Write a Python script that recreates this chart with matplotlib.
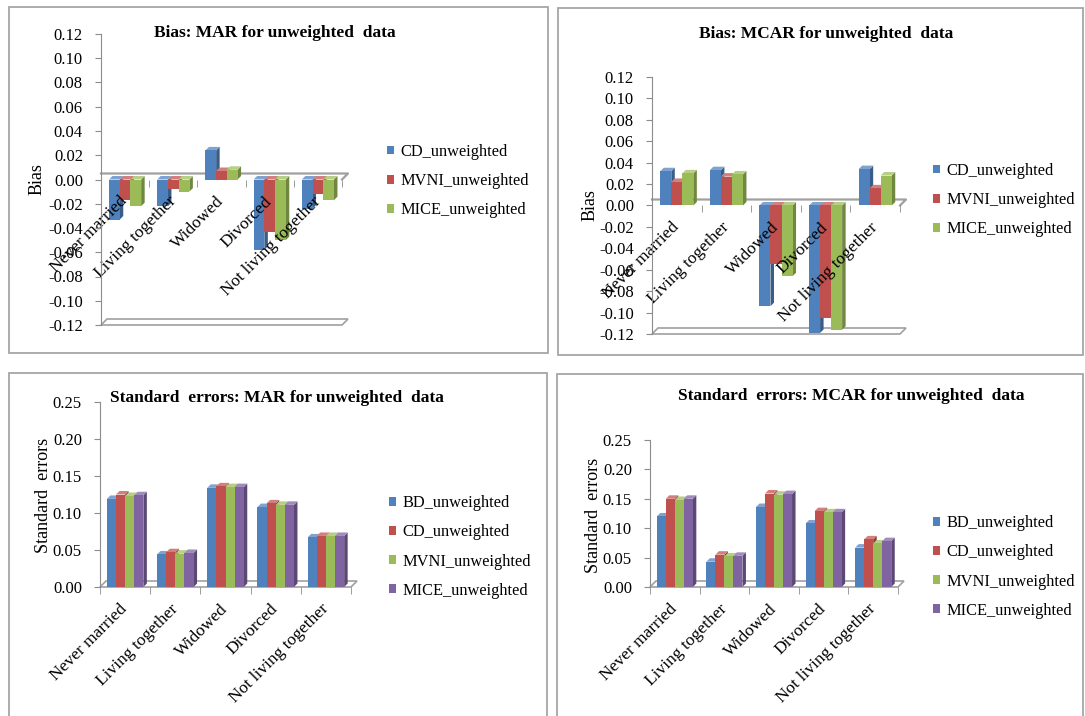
import numpy as np
import matplotlib.pyplot as plt
from matplotlib.patches import Polygon, Rectangle

plt.rcParams['font.family'] = ['Liberation Serif', 'DejaVu Serif']

# Data
categories = ["Never married", "Living together", "Widowed", "Divorced", "Not living together"]

bias_mar_cd = [-0.033, -0.022, 0.024, -0.058, -0.024]
bias_mar_mvni = [-0.017, -0.008, 0.007, -0.043, -0.012]
bias_mar_mice = [-0.022, -0.010, 0.008, -0.050, -0.017]

bias_mcar_cd = [0.032, 0.033, -0.094, -0.119, 0.034]
bias_mcar_mvni = [0.022, 0.027, -0.055, -0.105, 0.016]
bias_mcar_mice = [0.030, 0.029, -0.066, -0.116, 0.028]

se_mar_bd = [0.119, 0.044, 0.134, 0.108, 0.067]
se_mar_cd = [0.125, 0.047, 0.136, 0.113, 0.069]
se_mar_mvni = [0.123, 0.045, 0.135, 0.111, 0.069]
se_mar_mice = [0.124, 0.046, 0.135, 0.111, 0.069]

se_mcar_bd = [0.120, 0.043, 0.136, 0.108, 0.067]
se_mcar_cd = [0.150, 0.055, 0.159, 0.129, 0.081]
se_mcar_mvni = [0.148, 0.052, 0.157, 0.127, 0.074]
se_mcar_mice = [0.150, 0.053, 0.158, 0.127, 0.078]

names3 = ["CD_unweighted", "MVNI_unweighted", "MICE_unweighted"]
names4 = ["BD_unweighted", "CD_unweighted", "MVNI_unweighted", "MICE_unweighted"]

front = {"blue": "#4F81BD", "red": "#C0504D", "green": "#9BBB59", "purple": "#8064A2"}
side = {"blue": "#395D88", "red": "#8A3A37", "green": "#708740", "purple": "#5C4875"}
topc = {"blue": "#7FA3D0", "red": "#D2807D", "green": "#B6CE85", "purple": "#A08CBC"}

W, H = 1085, 716
GRAY = "#8C8C8C"

fig = plt.figure(figsize=(W / 100, H / 100), dpi=100)

# panel frames
for l, t, r, b in [(9, 7, 548, 353), (558, 8, 1083, 355), (9, 373, 547, 722), (557, 374, 1083, 722)]:
    fig.add_artist(Rectangle((l / W, 1 - b / H), (r - l) / W, (b - t) / H, transform=fig.transFigure,
                             fill=False, ec="#A6A6A6", lw=1.3))


def panel(box, ylim, step, series, names, colors, title, title_xy, ylabel, ylabel_xy, leg_xy):
    l, t, r, b = box
    ax = fig.add_axes([l / W, 1 - b / H, (r - l) / W, (b - t) / H])
    n_cat = len(categories)
    ax.set_xlim(-0.5, n_cat - 0.5)
    ax.set_ylim(*ylim)
    ux = n_cat / (r - l)
    uy = (ylim[1] - ylim[0]) / (b - t)
    ddx, ddy = 3.5 * ux, 3.5 * uy
    fdx, fdy = 6 * ux, 6 * uy
    base = max(ylim[0], 0)

    # floor of the 3D box
    x0, x1 = -0.5, n_cat - 0.5
    ax.add_patch(Polygon([(x0, ylim[0]), (x1, ylim[0]), (x1 + fdx, ylim[0] + fdy), (x0 + fdx, ylim[0] + fdy)],
                         closed=True, fill=False, ec="#A0A0A0", lw=1.2, clip_on=False, zorder=0.8))
    if ylim[0] < 0:
        ax.plot([x0, x1 + fdx, x1], [fdy, fdy, 0], color="#A0A0A0", lw=1.6, clip_on=False, zorder=0.9)

    n = len(series)
    w = 1 / (n + 1.5)
    x = np.arange(n_cat)
    handles = []
    for k, (vals, col) in enumerate(zip(series, colors)):
        off = -n * w / 2 + k * w
        z = 1 + k * 0.2
        for xi, v in zip(x + off, vals):
            top = max(v, base)
            bot = min(v, base)
            xa, xb = xi, xi + w
            ax.add_patch(Polygon([(xb, bot), (xb + ddx, bot + ddy), (xb + ddx, top + ddy), (xb, top)],
                                 closed=True, fc=side[col], ec="none", zorder=z))
            ax.add_patch(Polygon([(xa, top), (xa + ddx, top + ddy), (xb + ddx, top + ddy), (xb, top)],
                                 closed=True, fc=topc[col], ec="none", zorder=z))
        h = ax.bar(x + off + w / 2, vals, w, color=front[col], zorder=z + 0.1, linewidth=0)
        handles.append(h)

    # axes styling
    for s in ["top", "right", "bottom"]:
        ax.spines[s].set_visible(False)
    ax.spines["left"].set_color(GRAY)
    ax.spines["bottom"].set_position(("data", base))
    ticks = np.linspace(ylim[0], ylim[1], int(round((ylim[1] - ylim[0]) / step)) + 1)
    ax.set_yticks(ticks)
    ax.set_yticklabels([f"{tk:.2f}".replace("-0.00", "0.00") for tk in ticks], fontsize=12)
    ax.tick_params(axis="y", length=4, color=GRAY, pad=9)
    ax.set_xticks(x)
    ax.set_xticks(np.arange(n_cat + 1) - 0.5, minor=True)
    ax.set_xticklabels(categories, rotation=45, ha="right", va="center", rotation_mode="anchor", fontsize=12.5)
    ax.tick_params(axis="x", which="major", length=0, pad=14)
    ax.tick_params(axis="x", which="minor", length=5, color=GRAY)
    ax.patch.set_visible(False)

    ax.legend(handles, names, loc="center left", bbox_to_anchor=(leg_xy[0] / W, 1 - leg_xy[1] / H),
              bbox_transform=fig.transFigure, frameon=False, borderaxespad=0, borderpad=0,
              handlelength=0.45, handleheight=0.45, handletextpad=0.35, labelspacing=0.8,
              prop={"size": 11.8})
    fig.text(title_xy[0] / W, 1 - title_xy[1] / H, title, ha="center", va="center",
             fontsize=12.5, fontweight="bold")
    fig.text(ylabel_xy[0] / W, 1 - ylabel_xy[1] / H, ylabel, rotation=90, ha="center", va="center",
             fontsize=13)
    return ax


panel((101, 34, 342, 325), (-0.12, 0.12), 0.02,
      [bias_mar_cd, bias_mar_mvni, bias_mar_mice], names3, ["blue", "red", "green"],
      "Bias: MAR for unweighted  data", (275, 33), "Bias", (37, 179), (387, 181))

panel((652, 77, 900, 334), (-0.12, 0.12), 0.02,
      [bias_mcar_cd, bias_mcar_mvni, bias_mcar_mice], names3, ["blue", "red", "green"],
      "Bias: MCAR for unweighted  data", (826, 34), "Bias", (590, 205), (933, 200))

panel((100, 402, 351, 587), (0, 0.25), 0.05,
      [se_mar_bd, se_mar_cd, se_mar_mvni, se_mar_mice], names4, ["blue", "red", "green", "purple"],
      "Standard  errors: MAR for unweighted  data", (277, 398), "Standard  errors", (43, 495), (389, 547))

panel((650, 440, 898, 587), (0, 0.25), 0.05,
      [se_mcar_bd, se_mcar_cd, se_mcar_mvni, se_mcar_mice], names4, ["blue", "red", "green", "purple"],
      "Standard  errors: MCAR for unweighted  data", (851, 396), "Standard  errors", (593, 515), (933, 567))

plt.savefig("out.png", dpi=100)
